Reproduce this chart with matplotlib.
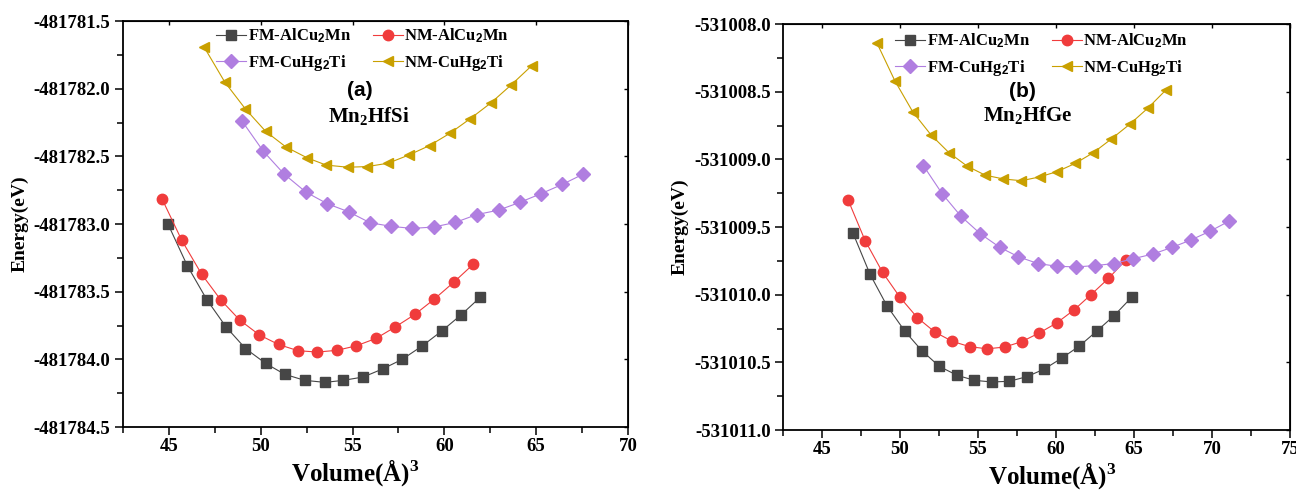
import numpy as np
import matplotlib
matplotlib.use("Agg")
import matplotlib.pyplot as plt
from matplotlib.ticker import MultipleLocator, FormatStrFormatter

plt.rcParams['font.family'] = 'Liberation Serif'
plt.rcParams['font.weight'] = 'bold'
plt.rcParams['mathtext.fontset'] = 'custom'
plt.rcParams['mathtext.rm'] = 'Liberation Serif:bold'
plt.rcParams['mathtext.bf'] = 'Liberation Serif:bold'
plt.rcParams['mathtext.sf'] = 'Liberation Sans:bold'

# --- Mn2HfSi (a) ---
v_fm_al_a = [44.95, 46.01, 47.07, 48.11, 49.17, 50.27, 51.30, 52.39, 53.50, 54.50, 55.59, 56.65, 57.70, 58.80, 59.86, 60.92, 61.96]
e_fm_al_a = [-481783.00, -481783.31, -481783.56, -481783.76, -481783.92, -481784.03, -481784.11, -481784.155, -481784.17,
             -481784.155, -481784.13, -481784.07, -481784.00, -481783.90, -481783.79, -481783.67, -481783.54]
v_nm_al_a = [44.64, 45.70, 46.78, 47.82, 48.86, 49.93, 50.97, 52.03, 53.09, 54.15, 55.20, 56.28, 57.33, 58.40, 59.43, 60.51, 61.58]
e_nm_al_a = [-481782.818, -481783.12, -481783.37, -481783.56, -481783.71, -481783.82, -481783.89, -481783.936, -481783.946,
             -481783.933, -481783.90, -481783.845, -481783.76, -481783.667, -481783.557, -481783.43, -481783.296]
v_fm_cu_a = [48.99, 50.13, 51.27, 52.46, 53.63, 54.78, 55.95, 57.10, 58.24, 59.41, 60.59, 61.76, 62.95, 64.10, 65.25, 66.42, 67.57]
e_fm_cu_a = [-481782.24, -481782.46, -481782.63, -481782.764, -481782.85, -481782.909, -481782.99, -481783.017, -481783.032,
             -481783.022, -481782.988, -481782.93, -481782.897, -481782.84, -481782.776, -481782.707, -481782.63]
v_nm_cu_a = [46.91, 48.04, 49.17, 50.27, 51.37, 52.52, 53.56, 54.75, 55.81, 56.94, 58.06, 59.19, 60.29, 61.42, 62.52, 63.65, 64.75]
e_nm_cu_a = [-481781.69, -481781.95, -481782.15, -481782.315, -481782.43, -481782.51, -481782.564, -481782.58, -481782.575,
             -481782.55, -481782.49, -481782.42, -481782.33, -481782.22, -481782.106, -481781.97, -481781.83]

# --- Mn2HfGe (b) ---
v_fm_al_b = [46.99, 48.08, 49.17, 50.31, 51.40, 52.52, 53.66, 54.77, 55.89, 57.00, 58.12, 59.24, 60.35, 61.49, 62.60, 63.72, 64.84]
e_fm_al_b = [-531009.547, -531009.85, -531010.084, -531010.27, -531010.414, -531010.53, -531010.596, -531010.633, -531010.645,
             -531010.64, -531010.606, -531010.55, -531010.47, -531010.38, -531010.27, -531010.155, -531010.02]
v_nm_al_b = [46.67, 47.76, 48.88, 50.00, 51.11, 52.23, 53.35, 54.46, 55.58, 56.70, 57.80, 58.92, 60.03, 61.15, 62.24, 63.36, 64.47]
e_nm_al_b = [-531009.30, -531009.60, -531009.835, -531010.02, -531010.17, -531010.276, -531010.345, -531010.384, -531010.40,
             -531010.387, -531010.347, -531010.283, -531010.21, -531010.113, -531010.00, -531009.88, -531009.744]
v_fm_cu_b = [51.50, 52.70, 53.90, 55.15, 56.39, 57.59, 58.84, 60.06, 61.28, 62.50, 63.72, 64.95, 66.20, 67.45, 68.64, 69.89, 71.10]
e_fm_cu_b = [-531009.047, -531009.254, -531009.42, -531009.55, -531009.65, -531009.72, -531009.77, -531009.79, -531009.795,
             -531009.785, -531009.77, -531009.734, -531009.70, -531009.65, -531009.596, -531009.53, -531009.456]
v_nm_cu_b = [48.53, 49.67, 50.82, 51.99, 53.13, 54.30, 55.46, 56.63, 57.78, 58.94, 60.08, 61.23, 62.40, 63.54, 64.73, 65.90, 67.02]
e_nm_cu_b = [-531008.143, -531008.42, -531008.65, -531008.82, -531008.95, -531009.05, -531009.117, -531009.145, -531009.158,
             -531009.13, -531009.09, -531009.03, -531008.95, -531008.85, -531008.74, -531008.62, -531008.49]

labels = [r'FM-AlCu$\mathsf{_2}$Mn', r'NM-AlCu$\mathsf{_2}$Mn', r'FM-CuHg$\mathsf{_2}$Ti', r'NM-CuHg$\mathsf{_2}$Ti']
colors = ['#464646', '#f03c3c', '#b07ee0', '#c9a000']
markers = ['s', 'o', 'D', '<']
msizes = [6.8, 7.5, 7.0, 7.8]

fig = plt.figure(figsize=(12.96, 4.91), dpi=100)
ax1 = fig.add_axes([0.0949, 0.1303, 0.3897, 0.8267])
ax2 = fig.add_axes([0.6042, 0.1242, 0.3912, 0.8269])


def draw(ax, data, ylim, xlim, tag, name, tag_xy, name_xy, leg_anchor, xlab_x):
    lines = []
    for (v, e), c, m, ms, lab in zip(data, colors, markers, msizes, labels):
        ln, = ax.plot(v, e, color=c, marker=m, markersize=ms, lw=0.8, label=lab)
        lines.append(ln)
    ax.set_xlim(*xlim)
    ax.set_ylim(*ylim)
    ax.xaxis.set_major_locator(MultipleLocator(5))
    ax.xaxis.set_minor_locator(MultipleLocator(2.5))
    ax.yaxis.set_major_locator(MultipleLocator(0.5))
    ax.yaxis.set_minor_locator(MultipleLocator(0.25))
    ax.yaxis.set_major_formatter(FormatStrFormatter('%.1f'))
    ax.tick_params(which='both', direction='out', labelsize=13.5, width=1.1, top=False, right=False)
    ax.tick_params(which='major', length=6)
    ax.tick_params(which='minor', length=4)
    ax.tick_params(axis='x', which='major', pad=2)
    ax.tick_params(axis='y', which='major', pad=3)
    for s in ax.spines.values():
        s.set_linewidth(1.3)
    # small inward ticks on top and right
    sec = ax.secondary_xaxis('top')
    sec.xaxis.set_major_locator(MultipleLocator(5))
    sec.tick_params(direction='in', length=3, labeltop=False, width=1)
    secy = ax.secondary_yaxis('right')
    secy.yaxis.set_major_locator(MultipleLocator(0.5))
    secy.tick_params(direction='in', length=3, labelright=False, width=1)
    ax.set_ylabel('Energy(eV)', fontsize=14, fontweight='bold', labelpad=4)
    ax.set_xlabel(r'Volume(Å)$^{3}$', fontsize=18, fontweight='bold')
    ax.xaxis.set_label_coords(xlab_x, -0.075)
    ax.text(tag_xy[0], tag_xy[1], tag, fontsize=15, fontweight='bold', family='Liberation Sans',
            ha='center', va='center')
    ax.text(name_xy[0], name_xy[1], name, fontsize=15, fontweight='bold', ha='center', va='center')
    # row-wise order: FM/NM AlCu2Mn on top, CuHg2Ti below
    order = [0, 2, 1, 3]
    ax.legend([lines[i] for i in order], [labels[i] for i in order],
              loc='upper left', bbox_to_anchor=leg_anchor, ncol=2, frameon=False,
              handlelength=1.8, handletextpad=0.1, columnspacing=1.3, labelspacing=0.45,
              borderaxespad=0, borderpad=0.2, prop={'weight': 'bold', 'size': 12})


draw(ax1, [(v_fm_al_a, e_fm_al_a), (v_nm_al_a, e_nm_al_a), (v_fm_cu_a, e_fm_cu_a), (v_nm_cu_a, e_nm_cu_a)],
     (-481784.5, -481781.5), (42.5, 70), '(a)', r'Mn$_{2}$HfSi', (55.4, -481782.01), (55.9, -481782.21),
     (0.178, 0.995), 0.46)
draw(ax2, [(v_fm_al_b, e_fm_al_b), (v_nm_al_b, e_nm_al_b), (v_fm_cu_b, e_fm_cu_b), (v_nm_cu_b, e_nm_cu_b)],
     (-531011.0, -531008.0), (42.5, 75), '(b)', r'Mn$_{2}$HfGe', (57.86, -531008.5), (58.2, -531008.68),
     (0.215, 0.99), 0.53)

for ax in (ax1, ax2):
    for t in ax.get_xticklabels() + ax.get_yticklabels():
        t.set_fontweight('bold')

fig.savefig('out.png', dpi=100)
